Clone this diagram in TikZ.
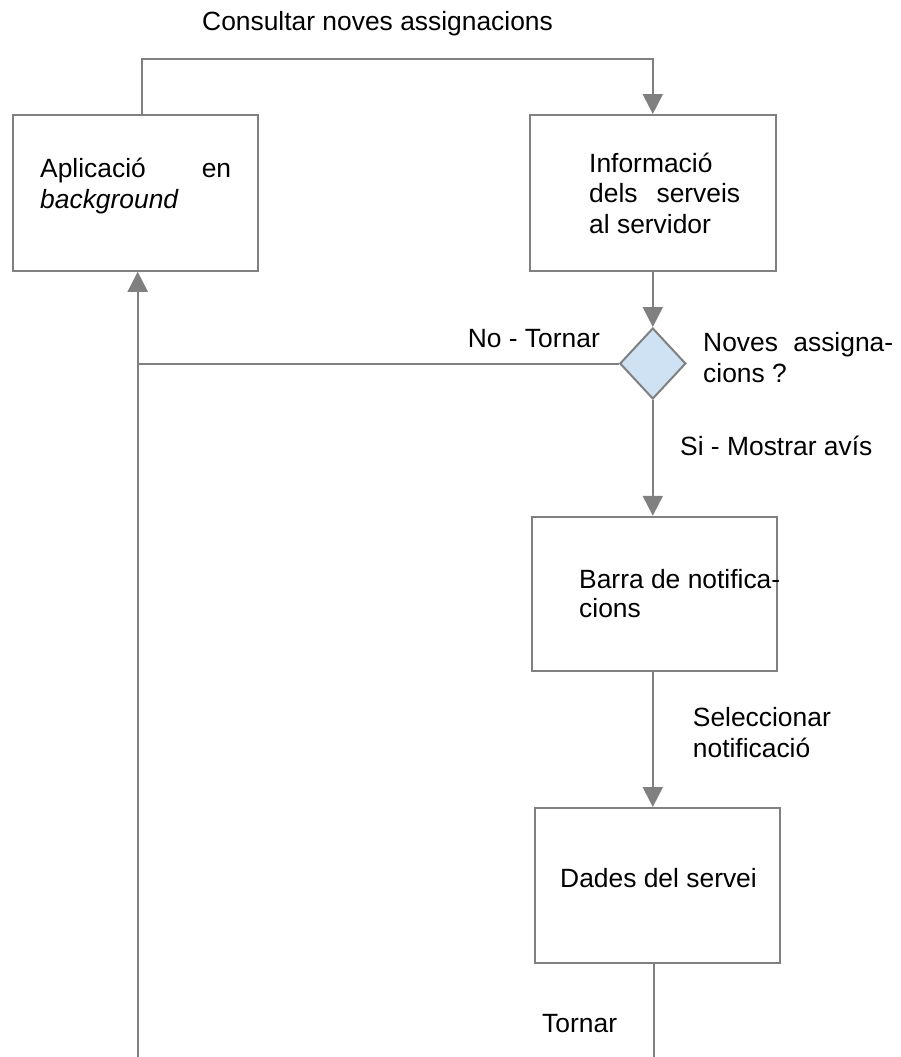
\documentclass[tikz,border=0pt]{standalone}
\usepackage{fontspec}
\setmainfont{Liberation Sans}
\usetikzlibrary{arrows.meta,shapes.geometric}
\definecolor{linegray}{RGB}{128,128,128}
\definecolor{decblue}{RGB}{207,226,243}
\tikzset{
  box/.style={draw=linegray, line width=2pt, rectangle, minimum width=245pt, minimum height=155pt, inner sep=0pt},
  decision/.style={draw=linegray, line width=2pt, diamond, fill=decblue, minimum width=66pt, minimum height=71pt, inner sep=0pt},
  conn/.style={draw=linegray, line width=2pt},
  arrowconn/.style={conn, -{Triangle[width=20pt,length=20pt]}},
  lbl/.style={anchor=base west, inner sep=0pt, font=\fontsize{26.4pt}{30.5pt}\selectfont},
  lble/.style={anchor=base east, inner sep=0pt, font=\fontsize{26.4pt}{30.5pt}\selectfont}
}
\begin{document}
\begin{tikzpicture}[x=1pt,y=-1pt]
\fill[white] (0,0) rectangle (901,1057);
\useasboundingbox (0,0) rectangle (901,1057);

% boxes
\node[box, minimum width=245.3pt, minimum height=155.7pt] (A) at (135.3,192.9) {};
\node[box, minimum width=245.7pt, minimum height=155.7pt] (B) at (652.8,192.9) {};
\node[decision] (dec) at (652.8,363.5) {};
\node[box, minimum width=245pt, minimum height=154.3pt] (C) at (654.5,593.9) {};
\node[box, minimum width=245pt, minimum height=155pt] (D) at (657.5,885.5) {};

% free ends
\coordinate (tl) at (141.7,59);
\coordinate (tr) at (652.8,59);
\coordinate (endA) at (137.7,1060);
\coordinate (endD) at (654,1060);

% connectors
\draw[arrowconn] (A.north -| tl) -- (tl) -- (tr) -- (B.north);
\draw[arrowconn] (B.south) -- (dec.north);
\draw[conn] (dec.west) -- (dec.west -| endA);
\draw[arrowconn] (endA) -- (A.south -| endA);
\draw[arrowconn] (dec.south) -- (dec.south |- C.north);
\draw[arrowconn] (dec.south |- C.south) -- (dec.south |- D.north);
\draw[conn] (D.south -| endD) -- (endD);

% texts
\node[lbl] (t1) at (202,31) {Consultar noves assignacions};
\node[lbl] (a1) at (40,177) {\makebox[191pt][s]{Aplicació en}};
\node[lbl] (a2) at (40,208) {\itshape background};
\node[lbl] (b1) at (589,172) {Informació};
\node[lbl] (b2) at (589,202.5) {\makebox[151pt][s]{dels serveis}};
\node[lbl] (b3) at (589,233.5) {al servidor};
\node[lble] (no) at (600,347) {No - Tornar};
\node[lbl] (n1) at (703,351) {\makebox[190pt][s]{Noves assigna-}};
\node[lbl] (n2) at (703,382) {cions ?};
\node[lbl] (si) at (680,455) {Si - Mostrar avís};
\node[lbl] (c1) at (579,588) {Barra de notifica-};
\node[lbl] (c2) at (579,617) {cions};
\node[lbl] (s1) at (692.7,726) {Seleccionar};
\node[lbl] (s2) at (692.7,757) {notificació};
\node[lbl] (d1) at (560,887) {Dades del servei};
\node[lbl] (tor) at (542,1032) {Tornar};
\end{tikzpicture}
\end{document}
